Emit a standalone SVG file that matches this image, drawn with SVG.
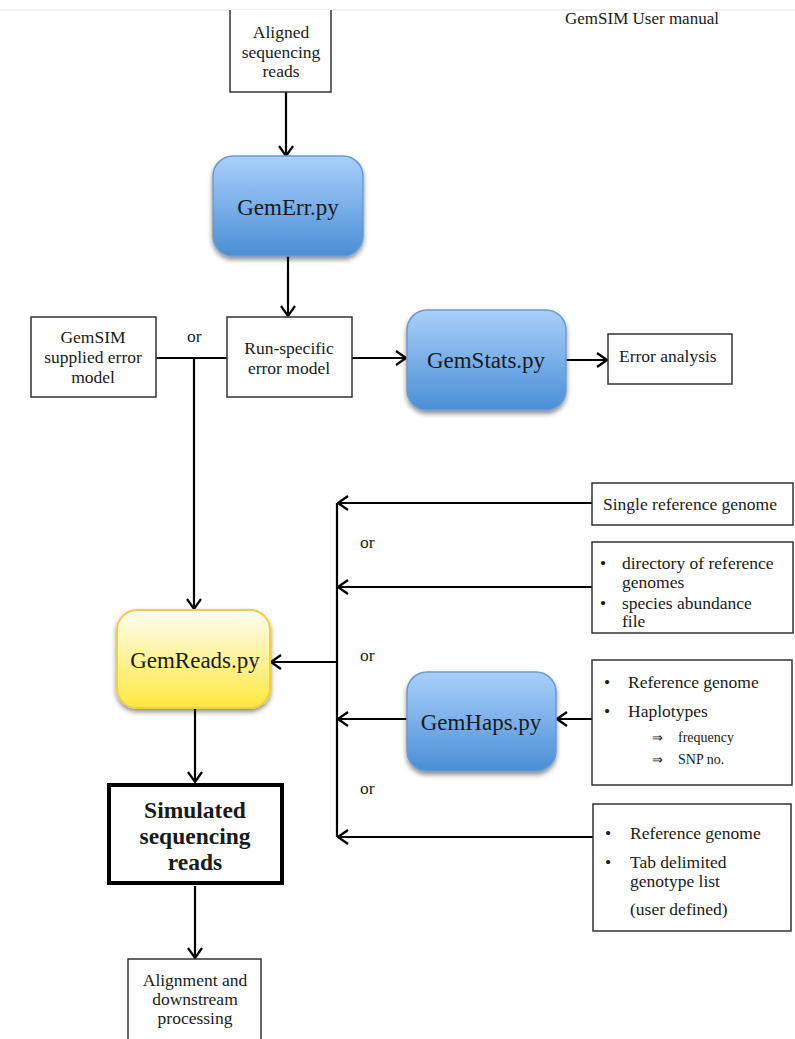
<svg xmlns="http://www.w3.org/2000/svg" width="795" height="1039" viewBox="0 0 795 1039">
<style>
text{font-family:"Liberation Serif","Times New Roman",serif;fill:#1a1a1a;}
.box{fill:#fff;stroke:#333;stroke-width:1.5;}
.c{text-anchor:middle;}
.t15{font-size:17.5px;}
.big{font-size:23px;}
.ln{fill:none;stroke:#000;stroke-width:2.2;}
</style>
<defs>
<linearGradient id="blue" x1="0" y1="0" x2="0" y2="1">
<stop offset="0" stop-color="#a9d0fb"/>
<stop offset="1" stop-color="#4a8ed6"/>
</linearGradient>
<linearGradient id="yellow" x1="0" y1="0" x2="0" y2="1">
<stop offset="0" stop-color="#fffdf2"/>
<stop offset="1" stop-color="#ffe83e"/>
</linearGradient>
<filter id="sh" x="-20%" y="-20%" width="140%" height="150%">
<feGaussianBlur in="SourceAlpha" stdDeviation="2.5"/>
<feOffset dx="0" dy="3" result="b"/>
<feComponentTransfer><feFuncA type="linear" slope="0.45"/></feComponentTransfer>
<feMerge><feMergeNode/><feMergeNode in="SourceGraphic"/></feMerge>
</filter>
<marker id="ar" viewBox="0 0 12 16" refX="11" refY="8" markerWidth="12" markerHeight="16" markerUnits="userSpaceOnUse" orient="auto">
<path d="M1,1 L11,8 L1,15" fill="none" stroke="#000" stroke-width="2.2"/>
</marker>
</defs>
<rect width="795" height="1039" fill="#fff"/>
<line x1="0" y1="10" x2="795" y2="10" stroke="#ececec" stroke-width="1.5"/>
<text x="565" y="24" font-size="17">GemSIM User manual</text>

<g id="connectors">
<line class="ln" x1="286" y1="92" x2="286" y2="156" marker-end="url(#ar)"/>
<line class="ln" x1="288" y1="256" x2="288" y2="316" marker-end="url(#ar)"/>
<line class="ln" x1="156" y1="358" x2="227" y2="358"/>
<line class="ln" x1="194" y1="358" x2="194" y2="609" marker-end="url(#ar)"/>
<line class="ln" x1="352" y1="358" x2="406" y2="358" marker-end="url(#ar)"/>
<line class="ln" x1="566" y1="360" x2="607" y2="360" marker-end="url(#ar)"/>
<line class="ln" x1="337" y1="503" x2="337" y2="837"/>
<line class="ln" x1="592" y1="503" x2="338" y2="503" marker-end="url(#ar)"/>
<line class="ln" x1="592" y1="587" x2="338" y2="587" marker-end="url(#ar)"/>
<line class="ln" x1="407" y1="719" x2="338" y2="719" marker-end="url(#ar)"/>
<line class="ln" x1="593" y1="837" x2="338" y2="837" marker-end="url(#ar)"/>
<line class="ln" x1="592" y1="719" x2="557" y2="719" marker-end="url(#ar)"/>
<line class="ln" x1="337" y1="662" x2="271" y2="662" marker-end="url(#ar)"/>
<line class="ln" x1="195" y1="709" x2="195" y2="782" marker-end="url(#ar)"/>
<line class="ln" x1="195" y1="886" x2="195" y2="958" marker-end="url(#ar)"/>
<text x="187" y="342" class="t15">or</text>
<text x="360" y="548" class="t15">or</text>
<text x="360" y="661" class="t15">or</text>
<text x="360" y="794" class="t15">or</text>
</g>

<g id="aligned">
<path d="M230,10 V92 H331 V10" class="box"/>
<text class="c t15" x="281" y="38">Aligned</text>
<text class="c t15" x="281" y="58">sequencing</text>
<text class="c t15" x="281" y="77">reads</text>
</g>

<g id="gemerr">
<rect x="213" y="156" width="150" height="100" rx="20" fill="url(#blue)" stroke="#6b9bd0" stroke-width="1.5" filter="url(#sh)"/>
<text class="c big" x="288" y="215">GemErr.py</text>
</g>

<g id="gemsim">
<rect x="31" y="317" width="125" height="80" class="box"/>
<text class="c t15" x="93" y="343">GemSIM</text>
<text class="c t15" x="93" y="363">supplied error</text>
<text class="c t15" x="93" y="383">model</text>
</g>

<g id="runspecific">
<rect x="227" y="317" width="125" height="80" class="box"/>
<text class="c t15" x="289" y="354">Run-specific</text>
<text class="c t15" x="289" y="374">error model</text>
</g>

<g id="gemstats">
<rect x="407" y="310" width="159" height="100" rx="20" fill="url(#blue)" stroke="#6b9bd0" stroke-width="1.5" filter="url(#sh)"/>
<text class="c big" x="486" y="368">GemStats.py</text>
</g>

<g id="erroranalysis">
<rect x="608" y="334" width="124" height="50" class="box"/>
<text class="t15" x="619" y="362">Error analysis</text>
</g>

<g id="singleref">
<rect x="592" y="483" width="201" height="42" class="box"/>
<text class="t15" x="603" y="510">Single reference genome</text>
</g>

<g id="directory">
<rect x="592" y="542" width="201" height="91" class="box"/>
<text class="t15" x="600" y="569">•</text>
<text class="t15" x="622" y="569">directory of reference</text>
<text class="t15" x="622" y="588">genomes</text>
<text class="t15" x="600" y="609">•</text>
<text class="t15" x="622" y="609">species abundance</text>
<text class="t15" x="622" y="627">file</text>
</g>

<g id="gemhaps">
<rect x="407" y="672" width="149" height="99" rx="20" fill="url(#blue)" stroke="#6b9bd0" stroke-width="1.5" filter="url(#sh)"/>
<text class="c big" x="481" y="730">GemHaps.py</text>
</g>

<g id="haplotypes">
<rect x="592" y="660" width="200" height="125" class="box"/>
<text class="t15" x="604" y="688">•</text>
<text class="t15" x="628" y="688">Reference genome</text>
<text class="t15" x="604" y="717">•</text>
<text class="t15" x="628" y="717">Haplotypes</text>
<text x="652" y="742" font-size="13">⇒</text>
<text x="678" y="742" font-size="14">frequency</text>
<text x="652" y="764" font-size="13">⇒</text>
<text x="678" y="764" font-size="14">SNP no.</text>
</g>

<g id="genotype">
<rect x="593" y="804" width="198" height="127" class="box"/>
<text class="t15" x="605" y="839">•</text>
<text class="t15" x="630" y="839">Reference genome</text>
<text class="t15" x="605" y="868">•</text>
<text class="t15" x="630" y="868">Tab delimited</text>
<text class="t15" x="630" y="887">genotype list</text>
<text class="t15" x="630" y="915">(user defined)</text>
</g>

<g id="gemreads">
<rect x="117" y="610" width="153" height="98" rx="20" fill="url(#yellow)" stroke="#f3cd45" stroke-width="2" filter="url(#sh)"/>
<text class="c big" x="195" y="668">GemReads.py</text>
</g>

<g id="simulated">
<rect x="109" y="785" width="173" height="98" fill="#fff" stroke="#000" stroke-width="4"/>
<text class="c" x="195" y="818" font-size="23.5" font-weight="bold">Simulated</text>
<text class="c" x="195" y="844" font-size="23.5" font-weight="bold">sequencing</text>
<text class="c" x="195" y="870" font-size="23.5" font-weight="bold">reads</text>
</g>

<g id="alignment">
<path d="M128,1045 V959 H261 V1045" class="box"/>
<text class="c t15" x="195" y="986">Alignment and</text>
<text class="c t15" x="195" y="1005">downstream</text>
<text class="c t15" x="195" y="1024">processing</text>
</g>
</svg>
